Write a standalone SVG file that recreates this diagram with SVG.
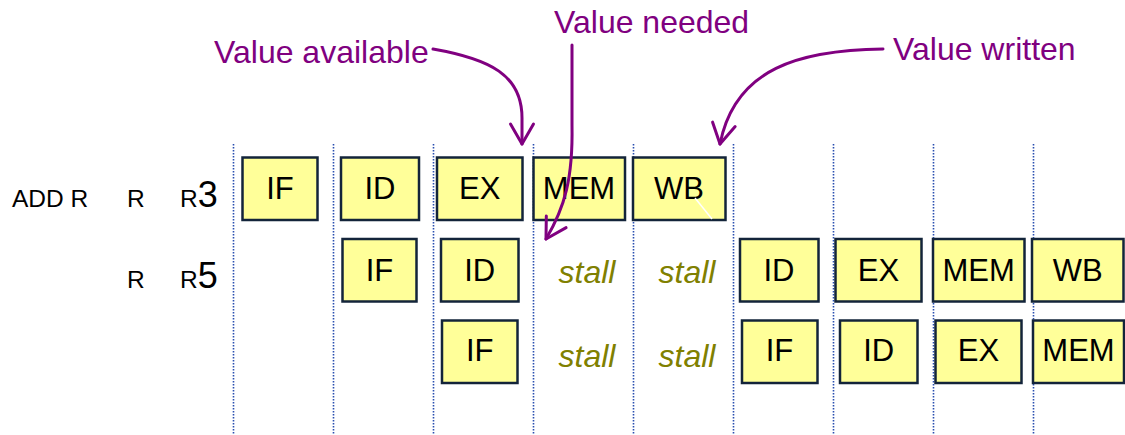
<svg xmlns="http://www.w3.org/2000/svg" width="1125" height="435" viewBox="0 0 1125 435">
  <style>
    .grid { stroke: #2a4fb0; stroke-width: 1.6; stroke-dasharray: 1.5 1.5; fill: none; }
    .box { fill: #ffff99; stroke: #13243a; stroke-width: 2.5; }
    .stage { font-family: "Liberation Sans", Arial, sans-serif; font-size: 31px; fill: #000; text-anchor: middle; }
    .stall { font-family: "Liberation Sans", Arial, sans-serif; font-size: 32px; font-style: italic; fill: #808000; text-anchor: middle; }
    .instr { font-family: "Liberation Sans", Arial, sans-serif; font-size: 24.5px; fill: #000; }
    .big { font-size: 36px; }
    .note { font-family: "Liberation Sans", Arial, sans-serif; font-size: 32px; fill: #800080; }
    .arrow { fill: none; stroke: #800080; stroke-width: 3; stroke-linecap: round; marker-end: url(#vhead); }
  </style>
  <defs>
    <marker id="vhead" markerUnits="userSpaceOnUse" viewBox="-24 -14 28 28" refX="0" refY="0" markerWidth="28" markerHeight="28" orient="auto" overflow="visible">
      <path d="M-20,-11.5 L0,0 L-20,11.5" fill="none" stroke="#800080" stroke-width="3" stroke-linecap="round" stroke-linejoin="round"/>
    </marker>
  </defs>

  <rect width="1125" height="435" fill="#ffffff"/>

  <!-- clock cycle boundaries -->
  <g id="cycle-grid">
    <line class="grid" x1="233.5" y1="144" x2="233.5" y2="435"/>
    <line class="grid" x1="333.5" y1="144" x2="333.5" y2="435"/>
    <line class="grid" x1="433.5" y1="144" x2="433.5" y2="435"/>
    <line class="grid" x1="533.5" y1="144" x2="533.5" y2="435"/>
    <line class="grid" x1="633.5" y1="144" x2="633.5" y2="435"/>
    <line class="grid" x1="733.5" y1="144" x2="733.5" y2="435"/>
    <line class="grid" x1="833.5" y1="144" x2="833.5" y2="435"/>
    <line class="grid" x1="933.5" y1="144" x2="933.5" y2="435"/>
    <line class="grid" x1="1033.5" y1="144" x2="1033.5" y2="435"/>
  </g>

  <!-- instruction labels -->
  <g id="instr-1">
    <text class="instr" x="12" y="207">ADD R</text>
    <text class="instr" x="127" y="207">R</text>
    <text class="instr" x="180" y="207">R<tspan class="big">3</tspan></text>
  </g>
  <g id="instr-2">
    <text class="instr" x="127" y="288">R</text>
    <text class="instr" x="180" y="288">R<tspan class="big">5</tspan></text>
  </g>

  <!-- row 1 -->
  <g id="r1-if"><rect class="box" x="242.5" y="157.5" width="75" height="62.5"/><text class="stage" x="280" y="199">IF</text></g>
  <g id="r1-id"><rect class="box" x="341" y="157.5" width="78" height="62.5"/><text class="stage" x="380" y="199">ID</text></g>
  <g id="r1-ex"><rect class="box" x="437" y="157.5" width="85.5" height="62.5"/><text class="stage" x="479.7" y="199">EX</text></g>
  <g id="r1-mem"><rect class="box" x="533.5" y="157.5" width="91.5" height="62.5"/><text class="stage" x="579" y="199">MEM</text></g>
  <g id="r1-wb"><rect class="box" x="633" y="157.5" width="92.5" height="62.5"/><text class="stage" x="679" y="199">WB</text>
    <line x1="695" y1="198" x2="712" y2="219" stroke="#ffffff" stroke-width="1.5"/></g>

  <!-- row 2 -->
  <g id="r2-if"><rect class="box" x="342.5" y="239" width="74" height="62.5"/><text class="stage" x="379.5" y="281">IF</text></g>
  <g id="r2-id"><rect class="box" x="441" y="239" width="77.5" height="62.5"/><text class="stage" x="479.7" y="281">ID</text></g>
  <g id="r2-stall1"><text class="stall" x="587" y="283">stall</text></g>
  <g id="r2-stall2"><text class="stall" x="687" y="283">stall</text></g>
  <g id="r2-id2"><rect class="box" x="740" y="239" width="78.5" height="62.5"/><text class="stage" x="779" y="281">ID</text></g>
  <g id="r2-ex"><rect class="box" x="835.5" y="239" width="86" height="62.5"/><text class="stage" x="878.5" y="281">EX</text></g>
  <g id="r2-mem"><rect class="box" x="933" y="239" width="91.5" height="62.5"/><text class="stage" x="978.7" y="281">MEM</text></g>
  <g id="r2-wb"><rect class="box" x="1032" y="239" width="91.5" height="62.5"/><text class="stage" x="1077.7" y="281">WB</text></g>

  <!-- row 3 -->
  <g id="r3-if"><rect class="box" x="442" y="320.5" width="75.5" height="62.5"/><text class="stage" x="479.7" y="360.5">IF</text></g>
  <g id="r3-stall1"><text class="stall" x="587" y="366.5">stall</text></g>
  <g id="r3-stall2"><text class="stall" x="687" y="366.5">stall</text></g>
  <g id="r3-if2"><rect class="box" x="742" y="320.5" width="75.5" height="62.5"/><text class="stage" x="779.5" y="360.5">IF</text></g>
  <g id="r3-id"><rect class="box" x="840" y="320.5" width="77.5" height="62.5"/><text class="stage" x="878.7" y="360.5">ID</text></g>
  <g id="r3-ex"><rect class="box" x="935.5" y="320.5" width="86" height="62.5"/><text class="stage" x="978.5" y="360.5">EX</text></g>
  <g id="r3-mem"><rect class="box" x="1033" y="320.5" width="91" height="62.5"/><text class="stage" x="1078.5" y="360.5">MEM</text></g>

  <!-- annotations -->
  <g id="note-available"><text class="note" x="214" y="62.5">Value available</text></g>
  <g id="note-needed"><text class="note" x="554" y="33">Value needed</text></g>
  <g id="note-written"><text class="note" x="893" y="60">Value written</text></g>

  <!-- annotation pointers -->
  <g id="connectors">
    <path class="arrow" d="M433,49 C490,59 522,75 522,118 L522,144"/>
    <path class="arrow" d="M572,45 L572,125 C573,178 565,207 546,239"/>
    <path class="arrow" d="M883,49 C800,50 735,68 720,144"/>
  </g>
</svg>
